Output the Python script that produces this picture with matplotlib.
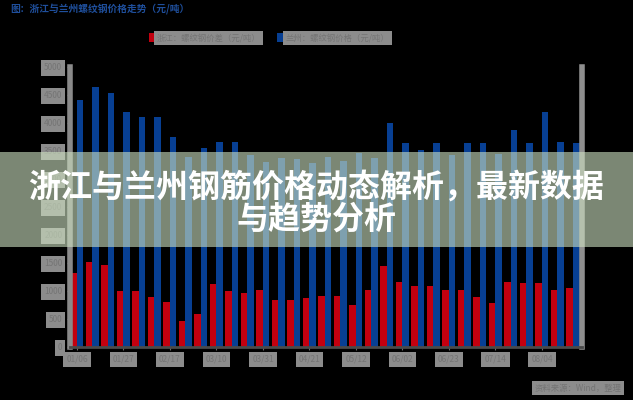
import numpy as np
import matplotlib
matplotlib.use("Agg")
import matplotlib.pyplot as plt
from matplotlib.patches import Rectangle

plt.rcParams['font.family'] = ['Noto Sans CJK SC', 'DejaVu Sans']

# data (yuan/ton)
weeks = ['01/06', '01/27', '02/17', '03/10', '03/31', '04/21', '05/12',
         '06/02', '06/23', '07/14', '08/04']
red_vals = [1320, 1520, 1465, 1000, 1000, 895, 805, 465, 590, 1125, 1000,
            965, 1020, 840, 840, 875, 910, 910, 750, 1020, 1445, 1160,
            1090, 1090, 1020, 1020, 895, 785, 1160, 1145, 1145, 1020, 1055]
blue_vals = [4410, 4645, 4535, 4195, 4105, 4105, 3750, 3400, 3555, 3660, 3660,
             3420, 3300, 3380, 3350, 3280, 3400, 3320, 3460, 3380, 4000, 3645,
             3520, 3645, 3430, 3645, 3645, 3450, 3875, 3645, 4195, 3660, 3645]
red_label = '浙江：螺纹钢价差（元/吨）'
blue_label = '兰州：螺纹钢价格（元/吨）'
chart_title = '图：浙江与兰州螺纹钢价格走势（元/吨）'
source = '资料来源：Wind，整理'
banner = '浙江与兰州钢筋价格动态解析，最新数据\n与趋势分析'

fig = plt.figure(figsize=(6.33, 4.0), dpi=100, facecolor='black')
ax = fig.add_axes([0.1106, 0.1325, 0.8088, 0.70])
ax.set_facecolor('black')

x = np.arange(len(red_vals))
w = 0.42
ax.bar(x - w / 2, red_vals, width=w, color='#c3000f', label=red_label)
ax.bar(x + w / 2, blue_vals, width=w, color='#073f93', label=blue_label)

ax.set_xlim(-0.45, 32.58)
ax.set_ylim(0, 5000)
ax.set_yticks(np.arange(0, 5001, 500))
ax.set_xticks(x[::3])
ax.set_xticklabels(weeks)

ax.spines['top'].set_visible(False)
ax.spines['left'].set_color('#8a8a8a')
ax.spines['left'].set_linewidth(4)
ax.spines['right'].set_color('#8f8f8f')
ax.spines['right'].set_linewidth(4)
ax.spines['bottom'].set_color('#4a4a4a')
ax.spines['bottom'].set_linewidth(2)
ax.tick_params(axis='both', colors='#6a6a6a', labelsize=6, length=2)
for lab in ax.get_yticklabels() + ax.get_xticklabels():
    lab.set_color('#747474')
    lab.set_bbox(dict(facecolor='#8c8c8c', edgecolor='none', pad=2.2))

leg = ax.legend(loc='center', bbox_to_anchor=(0.425, 0.905),
                bbox_transform=fig.transFigure, ncol=2, frameon=False,
                fontsize=6, handlelength=0.7, handleheight=1.2,
                columnspacing=2.0, handletextpad=0.3)
for t in leg.get_texts():
    t.set_color('#747474')
    t.set_bbox(dict(facecolor='#8c8c8c', edgecolor='none', pad=1.8))

fig.text(0.016, 0.978, chart_title, color='#1f4f9c', fontsize=7,
         fontweight='bold', ha='left', va='center')
fig.text(0.982, 0.03, source, color='#747474', fontsize=6, ha='right',
         va='center', bbox=dict(facecolor='#8c8c8c', edgecolor='none', pad=2.0))

# overlay banner
fig.patches.append(Rectangle((0, 153 / 400), 1, 95 / 400,
                             transform=fig.transFigure, facecolor='#cfe2c2',
                             alpha=0.6, edgecolor='none', zorder=10))
fig.text(0.5, 0.492, banner, color='white', fontsize=23, fontweight='bold',
         ha='center', va='center', linespacing=1.0, zorder=11)

fig.savefig('out.png', dpi=100, facecolor='black')
